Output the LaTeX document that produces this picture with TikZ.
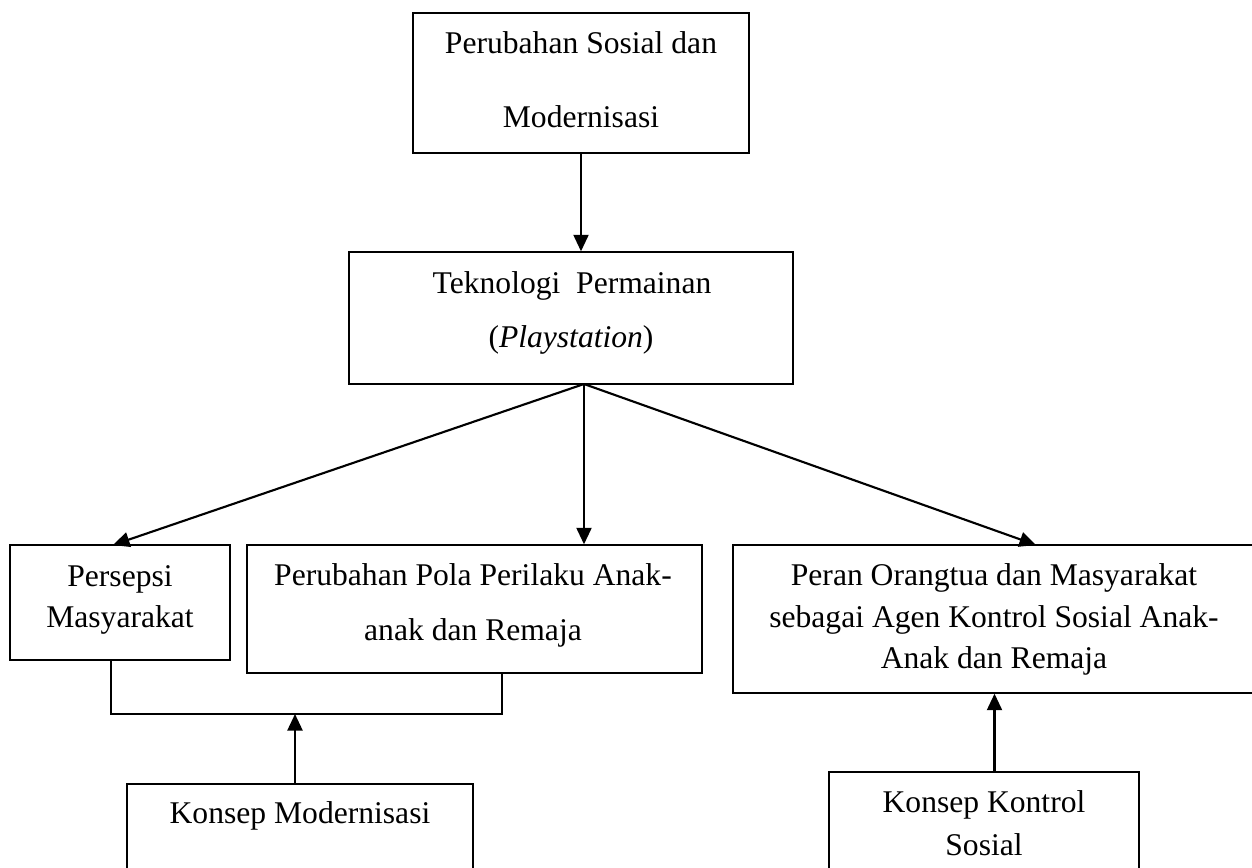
\documentclass[tikz,border=0pt]{standalone}
\usepackage{fontspec}
\setmainfont{Liberation Serif}
\usetikzlibrary{arrows.meta,fit}
\begin{document}
\begin{tikzpicture}[x=0.4pt,y=-0.4pt,
  box/.style={draw, line width=0.55pt, inner sep=0pt},
  txt/.style={anchor=base, inner sep=0pt, font=\fontsize{12.64}{15}\selectfont},
  conn/.style={line width=0.8pt},
  arr/.style={line width=0.85pt, -{Triangle[length=6.6pt,width=6pt]}}]
\useasboundingbox (0,0) rectangle (1252,867);
\clip (0,0) rectangle (1252,867);
% boxes
\node[box, fit={(413,13) (749,153)}] (A) {};
\node[box, fit={(349,252) (793,384)}] (B) {};
\node[box, fit={(10,545) (230,660)}] (C) {};
\node[box, fit={(247,545) (702,673)}] (D) {};
\node[box, fit={(733,545) (1256,693)}] (E) {};
\node[box, fit={(127,784) (473,900)}] (F) {};
\node[box, fit={(829,772) (1139,900)}] (G) {};
% texts
\node[txt] (A1) at (581,53) {Perubahan Sosial dan};
\node[txt] (A2) at (581,127) {Modernisasi};
\node[txt] (B1) at (572,293) {Teknologi\ \ Permainan};
\node[txt] (B2) at (571,347) {(\textit{Playstation})};
\node[txt] (C1) at (120,586) {Persepsi};
\node[txt] (C2) at (120,627) {Masyarakat};
\node[txt] (D1) at (473,585) {Perubahan Pola Perilaku Anak-};
\node[txt] (D2) at (473,640) {anak dan Remaja};
\node[txt] (E1) at (994,585) {Peran Orangtua dan Masyarakat};
\node[txt] (E2) at (994,627) {sebagai Agen Kontrol Sosial Anak-};
\node[txt] (E3) at (994,668) {Anak dan Remaja};
\node[txt] (F1) at (300,823) {Konsep Modernisasi};
\node[txt] (G1) at (984,812) {Konsep Kontrol};
\node[txt] (G2) at (984,855) {Sosial};
% connector points
\coordinate (Bo) at (584,384);
\coordinate (Cin) at (113,545);
\coordinate (Ein) at (1036,545);
\coordinate (Cj) at (111,714);
\coordinate (Dj) at (502,714);
\coordinate (Fj) at (295,714);
% connectors
\draw[arr] (A.south) -- (A.south |- B.north);
\draw[arr] (Bo) -- (Cin);
\draw[arr] (Bo) -- (Bo |- D.north);
\draw[arr] (Bo) -- (Ein);
\draw[conn] (Cj |- C.south) -- (Cj) -- (Dj) -- (Dj |- D.south);
\draw[arr] (Fj |- F.north) -- (Fj);
\draw[arr] (E.south |- G.north) -- (E.south);
\end{tikzpicture}
\end{document}
